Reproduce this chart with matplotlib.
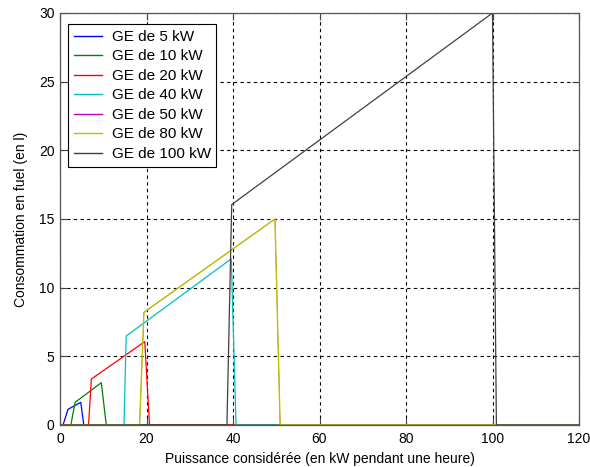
import matplotlib
matplotlib.use("Agg")
import matplotlib.pyplot as plt

plt.rcParams['font.family'] = ['Liberation Sans', 'DejaVu Sans']

labels = ["GE de 5 kW", "GE de 10 kW", "GE de 20 kW", "GE de 40 kW",
          "GE de 50 kW", "GE de 80 kW", "GE de 100 kW"]
colors = [(0, 0, 1), (0, 0.5, 0), (1, 0, 0), (0, 0.75, 0.75),
          (0.75, 0, 0.75), (0.75, 0.75, 0), (0.25, 0.25, 0.25)]

x_5 = [0, 0.7, 1.85, 4.8, 5.5, 120]
y_5 = [0, 0, 1.14, 1.65, 0, 0]
x_10 = [0, 2.5, 3.5, 9.55, 10.7, 120]
y_10 = [0, 0, 1.65, 3.08, 0, 0]
x_20 = [0, 6.6, 7.25, 19.6, 20.7, 120]
y_20 = [0, 0, 3.35, 6.07, 0, 0]
x_40 = [0, 14.8, 15.3, 39.6, 40.7, 120]
y_40 = [0, 0, 6.48, 12.1, 0, 0]
x_50 = [0, 18.4, 19.4, 49.7, 50.9, 120]
y_50 = [0, 0, 8.2, 15.0, 0, 0]
x_80 = [0, 18.4, 19.4, 49.7, 50.9, 120]
y_80 = [0, 0, 8.2, 15.0, 0, 0]
x_100 = [0, 38.6, 39.7, 100.0, 100.9, 120]
y_100 = [0, 0, 16.05, 30.0, 0, 0]

xs = [x_5, x_10, x_20, x_40, x_50, x_80, x_100]
ys = [y_5, y_10, y_20, y_40, y_50, y_80, y_100]
widths = [0.9, 0.9, 0.9, 0.9, 0.4, 1.0, 0.9]

xticks = [0, 20, 40, 60, 80, 100, 120]
yticks = [0, 5, 10, 15, 20, 25, 30]

fig = plt.figure(figsize=(5.9, 4.67), dpi=100)
ax = fig.add_axes([60/590, 1 - 425/467, 519/590, 412/467])

handles = []
for x, y, c, l, w in zip(xs, ys, colors, labels, widths):
    h, = ax.plot(x, y, color=c, lw=w, label=l)
    handles.append(h)

ax.set_xlim(0, 120)
ax.set_ylim(0, 30)
ax.set_xticks(xticks)
ax.set_yticks(yticks)
ax.grid(True, color='black', linestyle=(0, (3, 3)), linewidth=0.8)
ax.tick_params(direction='in', length=5, top=True, right=True, labelsize=10,
               color='#444444', width=0.8)
ax.tick_params(axis='x', pad=5)
ax.tick_params(axis='y', pad=4)
for s in ax.spines.values():
    s.set_color('#555555')
    s.set_linewidth(0.9)

ax.set_xlabel("Puissance considérée (en kW pendant une heure)", fontsize=10, labelpad=4)
ax.set_ylabel("Consommation en fuel (en l)", fontsize=10, labelpad=8)

leg = ax.legend(handles=handles, loc='upper left', bbox_to_anchor=(0.016, 0.973),
                borderaxespad=0, fontsize=11,
                fancybox=False, edgecolor='black', framealpha=1,
                handlelength=1.8, labelspacing=0.36, borderpad=0.38, handletextpad=0.65)
leg.get_frame().set_linewidth(0.8)
for lh in leg.get_lines():
    lh.set_linewidth(1.0)

fig.savefig("out.png", dpi=100, facecolor='white')
